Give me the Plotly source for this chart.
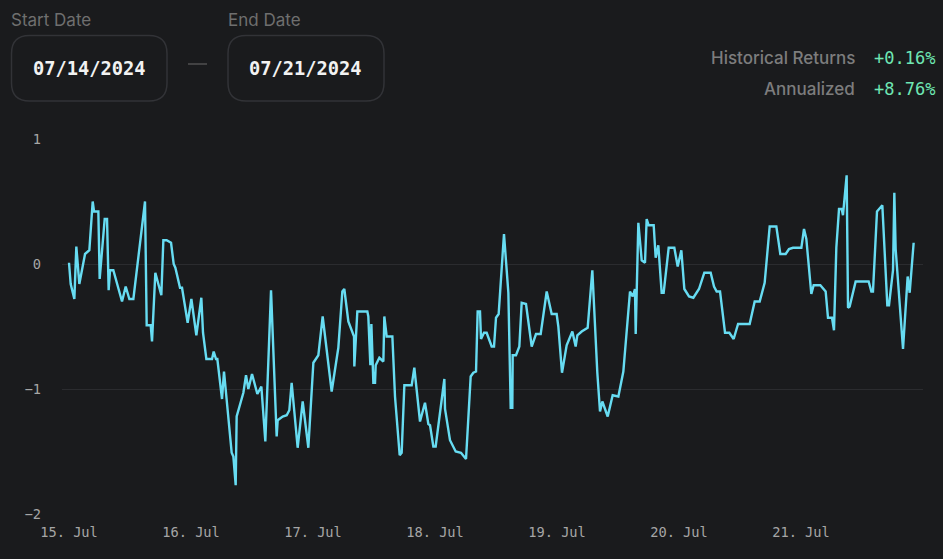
import pandas as pd
import plotly.graph_objects as go

hours = [0.00, 0.33, 1.05, 1.44, 2.03, 3.15, 4.00, 4.66, 4.92, 5.77, 6.03, 7.02, 7.48, 7.80, 8.07, 8.72,
         10.43, 11.15, 11.87, 12.66, 14.95, 15.28, 16.07, 16.33, 16.98, 18.16, 18.56, 19.21, 20.07, 20.59,
         20.92, 21.84, 22.23, 23.34, 24.07, 25.05, 26.03, 26.36, 27.02, 28.13, 28.46, 28.92, 29.18, 30.10,
         30.49, 32.00, 32.33, 32.79, 32.98, 34.30, 34.82, 35.28, 36.00, 37.05, 37.84, 38.62,
         39.74, 40.85, 41.05, 42.03, 42.82, 43.34, 43.80, 44.98, 45.97, 47.08, 48.07, 49.05, 49.90, 51.67,
         52.98, 53.77, 54.16, 54.95, 56.07, 56.13, 56.72, 58.69, 58.88, 59.28, 59.48, 59.87, 60.20, 60.33,
         61.05, 61.84, 62.03, 62.49, 63.61, 64.13, 65.05, 65.44, 65.97, 67.41, 67.93, 69.05, 70.03, 70.69,
         71.02, 71.67, 72.13, 73.84, 73.97, 74.95, 76.07, 77.11, 78.10, 79.02, 79.54, 80.07, 80.39, 80.85,
         81.05, 81.64, 82.16, 83.15, 83.61, 84.00, 84.52,
         85.57, 86.43, 86.89, 87.21, 87.28, 87.93, 88.59, 89.05, 89.90, 91.02, 91.87, 92.79, 93.97, 94.95,
         95.93, 96.26, 96.98, 97.90, 99.02, 99.67, 100.00, 100.85, 101.84, 102.03, 102.95, 103.93, 104.46,
         104.92, 105.97, 106.95, 108.07, 109.05, 110.36, 110.89, 111.34, 111.48, 112.00, 112.66, 113.31,
         113.64, 114.03, 115.02, 115.41, 115.93, 116.59, 116.98, 117.97, 119.08, 119.74, 120.46, 121.05,
         121.97, 122.82, 123.93, 124.98, 126.23, 126.89, 127.41, 128.07, 129.05, 129.90,
         130.75, 131.62, 133.90, 134.89, 135.87, 136.85, 137.84, 139.15, 139.93, 140.98, 141.64, 142.43,
         144.07, 144.59, 145.05, 146.03, 146.49, 147.80, 148.85, 149.31, 150.10, 150.49, 150.95, 151.48,
         152.00, 152.26, 152.98, 153.25, 153.57, 154.75, 157.31, 157.84, 158.16, 158.95, 160.00, 160.98,
         161.31, 162.10, 162.36, 162.62, 164.07, 164.98, 165.38, 166.16]

returns = [0.01, -0.16, -0.28, 0.14, -0.16, 0.08, 0.11, 0.50, 0.42, 0.42, -0.12, 0.36, 0.36, -0.21, -0.05, -0.05,
           -0.30, -0.18, -0.28, -0.28, 0.50, -0.49, -0.49, -0.62, -0.07, -0.25, 0.19, 0.19, 0.17, 0.00,
           -0.03, -0.19, -0.19, -0.47, -0.28, -0.57, -0.27, -0.55, -0.76, -0.76, -0.70, -0.76, -0.76, -1.08,
           -0.86, -1.51, -1.54, -1.77, -1.22, -1.03, -0.89, -1.00, -0.88, -1.04, -0.98, -1.42,
           -0.21, -1.38, -1.25, -1.22, -1.21, -1.17, -0.95, -1.47, -1.10, -1.47, -0.79, -0.73, -0.42, -1.02,
           -0.67, -0.22, -0.20, -0.46, -0.58, -0.82, -0.38, -0.38, -0.42, -0.81, -0.48, -0.95, -0.95, -0.81,
           -0.75, -0.78, -0.42, -0.58, -0.58, -1.06, -1.53, -1.51, -0.97, -0.97, -0.83, -1.26, -1.11, -1.28,
           -1.29, -1.46, -1.46, -0.92, -1.16, -1.41, -1.50, -1.51, -1.56, -0.90, -0.87, -0.86, -0.38, -0.38,
           -0.60, -0.55, -0.55, -0.66, -0.66, -0.43, -0.40,
           0.24, -0.23, -1.15, -1.15, -0.73, -0.73, -0.66, -0.31, -0.32, -0.66, -0.56, -0.56, -0.22, -0.40,
           -0.40, -0.50, -0.87, -0.65, -0.54, -0.66, -0.57, -0.54, -0.51, -0.51, -0.05, -0.87, -1.18,
           -1.10, -1.22, -1.05, -1.06, -0.86, -0.22, -0.26, -0.20, -0.56, 0.33, 0.03, 0.01,
           0.36, 0.31, 0.31, 0.05, 0.15, -0.23, -0.23, 0.13, 0.13, -0.02, 0.11, -0.20,
           -0.26, -0.27, -0.20, -0.07, -0.07, -0.18, -0.22, -0.22, -0.55, -0.55,
           -0.60, -0.48, -0.48, -0.30, -0.30, -0.15, 0.30, 0.30, 0.08, 0.08, 0.12, 0.13,
           0.13, 0.28, 0.20, -0.24, -0.17, -0.17, -0.22, -0.43, -0.43, -0.53, 0.13, 0.44,
           0.44, 0.39, 0.71, -0.35, -0.34, -0.14, -0.14, -0.22, -0.22, 0.42, 0.47, -0.33,
           -0.33, -0.05, 0.57, 0.12, -0.68, -0.10, -0.23, 0.17]

start_label = "Start Date"
end_label = "End Date"
start_date = "07/14/2024"
end_date = "07/21/2024"
stat_labels = ["Historical Returns", "Annualized"]
stat_values = ["+0.16%", "+8.76%"]
y_ticks = [-2, -1, 0, 1]

W, H = 943, 559
L, R, T, B = 62, 923, 139, 514
BG = "#1a1b1d"
MONO = "DejaVu Sans Mono"
SANS = "Inter"


def px(x):
    return (x - L) / (R - L)


def py(y):
    return (B - y) / (B - T)


def round_box(x0, y0, x1, y1, r):
    a, b, c, d = px(x0), px(x1), py(y0), py(y1)
    rx, ry = r / (R - L), r / (B - T)
    return (f"M {a + rx} {c} L {b - rx} {c} Q {b} {c} {b} {c - ry} L {b} {d + ry} Q {b} {d} {b - rx} {d} "
            f"L {a + rx} {d} Q {a} {d} {a} {d + ry} L {a} {c - ry} Q {a} {c} {a + rx} {c} Z")


times = pd.Timestamp("2024-07-15") + pd.to_timedelta(hours, unit="h")

fig = go.Figure(go.Scatter(x=times, y=returns, mode="lines",
                           line=dict(color="#67dcf2", width=2.4), hoverinfo="skip"))

fig.update_layout(
    width=W, height=H, autosize=False,
    margin=dict(l=L, r=W - R, t=T, b=H - B),
    paper_bgcolor=BG, plot_bgcolor=BG,
    showlegend=False,
    font=dict(family=MONO, size=13.7, color="#a6a6a6"),
    xaxis=dict(
        range=[pd.Timestamp("2024-07-15") + pd.Timedelta(hours=-1.38),
               pd.Timestamp("2024-07-15") + pd.Timedelta(hours=168.0)],
        tick0="2024-07-15", dtick=86400000, tickformat="%d. %b",
        showgrid=False, zeroline=False, showline=False, ticks="",
        ticklabelstandoff=8, tickfont=dict(family=MONO, size=13.7, color="#a6a6a6"),
    ),
    yaxis=dict(
        range=[-2, 1], tickvals=y_ticks, tickformat="d",
        gridcolor="#2b2c2f", gridwidth=1, zeroline=False, showline=False, ticks="",
        ticklabelstandoff=20, tickfont=dict(family=MONO, size=13.7, color="#a6a6a6"),
    ),
)

for x0, x1 in [(11.5, 167), (228, 384)]:
    fig.add_shape(type="path", xref="paper", yref="paper", path=round_box(x0, 35.5, x1, 101, 18),
                  line=dict(color="#323337", width=1.5))
fig.add_shape(type="line", xref="paper", yref="paper", x0=px(188), x1=px(207), y0=py(64), y1=py(64),
              line=dict(color="#6b6b6b", width=1))


def label(x, y, text, color, size, family, anchor="left", weight="normal"):
    fig.add_annotation(x=px(x), y=py(y), xref="paper", yref="paper", text=text, showarrow=False,
                       xanchor=anchor, yanchor="middle", borderpad=0, align=anchor,
                       font=dict(family=family, size=size, color=color, weight=weight))


label(10, 20, start_label, "#6f6f6f", 17, SANS)
label(227, 20, end_label, "#6f6f6f", 17, SANS)
label(89.5, 68.5, start_date, "#f2f2f2", 18.7, MONO, "center", "bold")
label(305.5, 68.5, end_date, "#f2f2f2", 18.7, MONO, "center", "bold")

for stat_y, name, val in zip([58, 89], stat_labels, stat_values):
    label(856, stat_y, name, "#7d7d7d", 17, SANS, "right", 500)
    label(936, stat_y, val, "#6fe7b4", 17, MONO, "right", 500)

# page margin would otherwise push the figure 8px off the window
fig.write_html("out.html", config={"displayModeBar": False},
               post_script="document.body.style.margin='0';")
